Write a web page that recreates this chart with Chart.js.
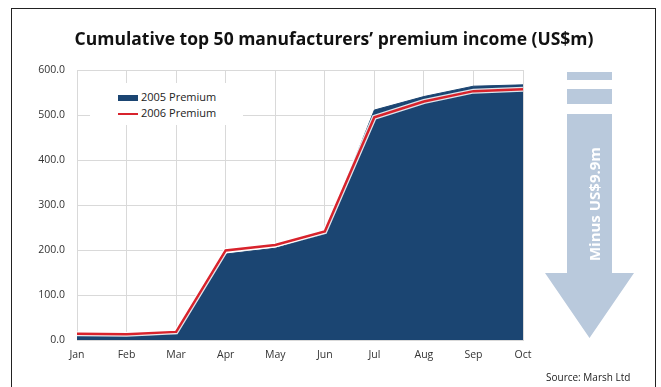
<!DOCTYPE html>
<html>
<head>
<meta charset="utf-8">
<script src="https://cdn.jsdelivr.net/npm/chart.js@4.4.1/dist/chart.umd.min.js"></script>
<style>
  body { margin: 0; background: #fff; }
  .wrap { position: relative; width: 661px; height: 387px; overflow: hidden; font-family: 'Open Sans', sans-serif; }
  .frame { position: absolute; left: 11px; top: 8px; width: 645px; height: 420px; border: 1.5px solid #222; box-sizing: border-box; }
  canvas { position: absolute; left: 0; top: 0; }
  .title { position: absolute; left: 0; width: 668px; top: 25px; text-align: center; font-size: 17.5px; font-weight: bold; color: #111; line-height: 26px; }
  .legend { position: absolute; left: 90px; top: 83px; width: 153px; height: 42px; background: #fff; }
  .legend-item { position: absolute; left: 28px; font-size: 11px; color: #222; line-height: 14px; }
  .legend-item span { display: inline-block; width: 20px; vertical-align: middle; margin-right: 3px; }
  .source { position: absolute; left: 546px; top: 370px; font-size: 10px; color: #222; }
</style>
</head>
<body>
<div class="wrap">
  <div class="frame"></div>
  <canvas id="chart" width="661" height="387"></canvas>
  <div class="title">Cumulative top 50 manufacturers’ premium income (US$m)</div>
  <div class="legend" id="legend"></div>
  <div class="source">Source: Marsh Ltd</div>
</div>
<script>
const months = ['Jan', 'Feb', 'Mar', 'Apr', 'May', 'Jun', 'Jul', 'Aug', 'Sep', 'Oct'];
const premium2005 = [9, 9, 13, 191, 204, 236, 511, 541, 564, 567];
const premium2006 = [14, 13, 18, 199, 211, 241, 495, 530, 553, 557];
const yTicks = [0, 100, 200, 300, 400, 500, 600];

const navy = '#1b4572';
const red = '#d8232c';

// down arrow on the right, with the difference written in it
const arrowPlugin = {
    id: 'arrow',
    afterDraw(chart) {
        const c = chart.ctx;
        c.save();
        c.fillStyle = '#b9c9dc';
        c.fillRect(567, 72, 45, 8);
        c.fillRect(567, 89, 45, 15);
        c.beginPath();
        c.moveTo(567, 114);
        c.lineTo(612, 114);
        c.lineTo(612, 273);
        c.lineTo(634, 273);
        c.lineTo(589.5, 338);
        c.lineTo(545, 273);
        c.lineTo(567, 273);
        c.closePath();
        c.fill();
        c.translate(596, 204);
        c.rotate(-Math.PI / 2);
        c.fillStyle = '#fff';
        c.font = 'bold 15px "Open Sans"';
        c.textAlign = 'center';
        c.textBaseline = 'middle';
        c.fillText('Minus US$9.9m', 0, 0);
        c.restore();
    }
};

const chart = new Chart(document.getElementById('chart'), {
    type: 'line',
    data: {
        labels: months,
        datasets: [
            {
                label: '2006 Premium',
                data: premium2006,
                borderColor: red,
                backgroundColor: red,
                borderWidth: 2.5,
                pointRadius: 0,
                fill: false,
                order: 0
            },
            {
                label: '',
                data: premium2006,
                borderColor: 'rgba(255,255,255,0.85)',
                borderWidth: 5,
                pointRadius: 0,
                fill: false,
                order: 1
            },
            {
                label: '2005 Premium',
                data: premium2005,
                borderColor: navy,
                backgroundColor: navy,
                borderWidth: 1,
                pointRadius: 0,
                fill: 'origin',
                order: 2
            }
        ]
    },
    options: {
        responsive: false,
        animation: false,
        devicePixelRatio: 1,
        layout: { padding: { left: 0, right: 138, top: 70, bottom: 0 } },
        plugins: {
            legend: { display: false },
            tooltip: { enabled: false },
            title: { display: false }
        },
        scales: {
            x: {
                offset: false,
                grid: { color: '#d9d9d9', drawTicks: false },
                border: { color: '#d9d9d9' },
                ticks: { color: '#333', font: { family: 'Open Sans', size: 10.5 }, padding: 9, maxRotation: 0 },
                afterFit(scale) { scale.height = 47; }
            },
            y: {
                min: 0,
                max: 600,
                afterBuildTicks(scale) { scale.ticks = yTicks.map(v => ({ value: v })); },
                grid: { color: '#d9d9d9', drawTicks: false },
                border: { color: '#d9d9d9' },
                ticks: {
                    color: '#333',
                    font: { family: 'Open Sans', size: 10.5 },
                    padding: 12,
                    callback: v => v.toFixed(1)
                },
                afterFit(scale) { scale.width = 77; }
            }
        }
    },
    plugins: [arrowPlugin]
});

// legend box inside the plot, built from the datasets
const legend = document.getElementById('legend');
const items = [chart.data.datasets[2], chart.data.datasets[0]];
items.forEach((ds, i) => {
    const el = document.createElement('div');
    el.className = 'legend-item';
    el.style.top = (7 + i * 16) + 'px';
    const sw = document.createElement('span');
    sw.style.height = ds.fill ? '6px' : '2px';
    sw.style.background = ds.borderColor;
    el.appendChild(sw);
    el.appendChild(document.createTextNode(ds.label));
    legend.appendChild(el);
});
</script>
</body>
</html>
